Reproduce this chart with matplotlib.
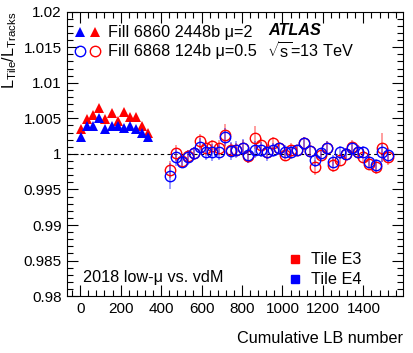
import matplotlib
matplotlib.use("Agg")
import matplotlib.pyplot as plt
from matplotlib.lines import Line2D
from matplotlib.legend_handler import HandlerTuple
from matplotlib.ticker import MultipleLocator, FuncFormatter

plt.rcParams['font.family'] = ['Liberation Sans', 'DejaVu Sans']
plt.rcParams['mathtext.fontset'] = 'custom'
plt.rcParams['mathtext.rm'] = 'Liberation Sans'
plt.rcParams['mathtext.it'] = 'Liberation Sans:italic'

# Fill 6860 (triangles)
lb_6860 = [5, 35, 65, 95, 125, 155, 185, 215, 245, 275, 305, 335]
e3_6860 = [1.0035, 1.0049, 1.0055, 1.0065, 1.0049, 1.0058, 1.0046, 1.0059, 1.0052, 1.0052, 1.0039, 1.0030]
e4_6860 = [1.0024, 1.0039, 1.0039, 1.0051, 1.0035, 1.0039, 1.0039, 1.0037, 1.0039, 1.0035, 1.0030, 1.0024]

# Fill 6868 (open circles)
lb_6868 = [445, 473, 503, 533, 561, 591, 623, 653, 684, 714, 744, 772, 804, 832,
           864, 894, 924, 954, 984, 1014, 1044, 1073, 1104, 1134, 1162, 1192, 1222,
           1252, 1283, 1312, 1342, 1372, 1400, 1430, 1463, 1491, 1521]
e3_6868 = [0.9978, 1.0001, 0.9990, 0.9997, 1.0001, 1.0018, 1.0009, 1.0011, 1.0009,
           1.0026, 1.0005, 1.0006, 1.0009, 0.9997, 1.0023, 1.0013, 1.0003, 1.0015,
           1.0008, 0.9998, 1.0006, 1.0005, 1.0015, 1.0004, 0.9981, 0.9998, 1.0009,
           0.9984, 0.9992, 1.0000, 1.0010, 1.0003, 0.9996, 0.9986, 0.9981, 1.0009, 0.9995]
e4_6868 = [0.9969, 0.9995, 0.9989, 0.9995, 1.0001, 1.0010, 1.0002, 1.0002, 1.0003,
           1.0024, 1.0004, 1.0006, 1.0009, 0.9998, 1.0006, 1.0006, 1.0002, 1.0005,
           1.0008, 1.0003, 1.0002, 1.0005, 1.0015, 1.0004, 0.9991, 1.0001, 1.0009,
           0.9989, 1.0002, 1.0000, 1.0008, 1.0003, 1.0003, 0.9989, 0.9984, 1.0002, 0.9998]
e3_err = [0.0012, 0.0011, 0.0009, 0.0009, 0.0009, 0.0010, 0.0009, 0.0009, 0.0010,
          0.0016, 0.0010, 0.0009, 0.0010, 0.0010, 0.0016, 0.0009, 0.0010, 0.0009,
          0.0008, 0.0008, 0.0009, 0.0008, 0.0009, 0.0008, 0.0010, 0.0008, 0.0009,
          0.0010, 0.0008, 0.0008, 0.0009, 0.0009, 0.0008, 0.0009, 0.0009, 0.0020, 0.0011]
e4_err = [0.0018, 0.0012, 0.0009, 0.0010, 0.0009, 0.0012, 0.0010, 0.0012, 0.0011,
          0.0013, 0.0013, 0.0012, 0.0012, 0.0011, 0.0012, 0.0011, 0.0012, 0.0010,
          0.0009, 0.0009, 0.0009, 0.0008, 0.0009, 0.0008, 0.0010, 0.0008, 0.0009,
          0.0009, 0.0009, 0.0008, 0.0009, 0.0009, 0.0008, 0.0009, 0.0009, 0.0014, 0.0011]

red = '#ff0000'
blue = '#0000ff'
fs = 11.7

fig = plt.figure(figsize=(4.14, 3.53), dpi=100)
ax = fig.add_axes([0.162, 0.161, 0.811, 0.806])

ax.axhline(1.0, color='black', ls=(0, (3, 3)), lw=0.8, zorder=1)

# error bars of the circles
ax.errorbar(lb_6868, e3_6868, yerr=e3_err, fmt='none', ecolor=red, elinewidth=1.2, alpha=0.45, zorder=2)
ax.errorbar(lb_6868, e4_6868, yerr=e4_err, fmt='none', ecolor=blue, elinewidth=1.2, alpha=0.45, zorder=2)

ax.plot(lb_6868, e3_6868, 'o', mfc='none', mec=red, ms=7.5, mew=1.0, zorder=3)
ax.plot(lb_6868, e4_6868, 'o', mfc='none', mec=blue, ms=7.5, mew=1.0, zorder=3)
ax.plot(lb_6860, e3_6860, '^', color=red, ms=6.5, mew=0, zorder=3)
ax.plot(lb_6860, e4_6860, '^', color=blue, ms=6.5, mew=0, zorder=3)

ax.set_xlim(-65, 1595)
ax.set_ylim(0.98, 1.02)
ax.xaxis.set_major_locator(MultipleLocator(200))
ax.xaxis.set_minor_locator(MultipleLocator(40))
ax.yaxis.set_major_locator(MultipleLocator(0.005))
ax.yaxis.set_minor_locator(MultipleLocator(0.001))
ax.yaxis.set_major_formatter(FuncFormatter(lambda v, p: '%g' % round(v, 4)))
ax.tick_params(which='both', direction='in', top=True, right=True, labelsize=11, width=0.8)
ax.tick_params(which='major', length=8, pad=4)
ax.tick_params(which='minor', length=4)
for s in ax.spines.values():
    s.set_linewidth(0.8)

ax.set_xlabel('Cumulative LB number', fontsize=fs, ha='right', x=1.0, labelpad=11)
ax.set_ylabel(r'L$_{\mathrm{Tile}}$/L$_{\mathrm{Tracks}}$', fontsize=fs, ha='right', y=1.0, labelpad=3)

# top-left legend
tb, = ax.plot([], [], '^', color=blue, ms=6.5, mew=0)
tr, = ax.plot([], [], '^', color=red, ms=6.5, mew=0)
cb, = ax.plot([], [], 'o', mfc='none', mec=blue, ms=7.5, mew=1.0)
cr, = ax.plot([], [], 'o', mfc='none', mec=red, ms=7.5, mew=1.0)
leg1 = ax.legend([(tb, tr), (cb, cr)],
                 ['Fill 6860 2448b \u03bc=2', 'Fill 6868 124b \u03bc=0.5'],
                 handler_map={tuple: HandlerTuple(ndivide=None, pad=0.25)},
                 loc='upper left', bbox_to_anchor=(-0.014, 0.998), frameon=False, fontsize=fs,
                 handlelength=1.5, handletextpad=0.5, labelspacing=0.25, borderaxespad=0.4)
ax.add_artist(leg1)

ax.text(0.6, 0.935, 'ATLAS', transform=ax.transAxes, fontsize=fs, fontweight='bold',
        style='italic', va='center')
ax.text(0.595, 0.862, r'$\sqrt{\mathrm{s}}$=13 TeV', transform=ax.transAxes, fontsize=fs, va='center')
ax.text(0.047, 0.064, '2018 low-\u03bc vs. vdM', transform=ax.transAxes, fontsize=fs, va='center')

h3 = Line2D([], [], marker='s', color=red, ls='none', ms=5.5)
h4 = Line2D([], [], marker='s', color=blue, ls='none', ms=5.5)
ax.legend([h3, h4], ['Tile E3', 'Tile E4'], loc='lower right', bbox_to_anchor=(0.92, -0.02),
          frameon=False, fontsize=fs, handlelength=0.8, handletextpad=0.6, labelspacing=0.3)

fig.savefig('out.png', dpi=100)
